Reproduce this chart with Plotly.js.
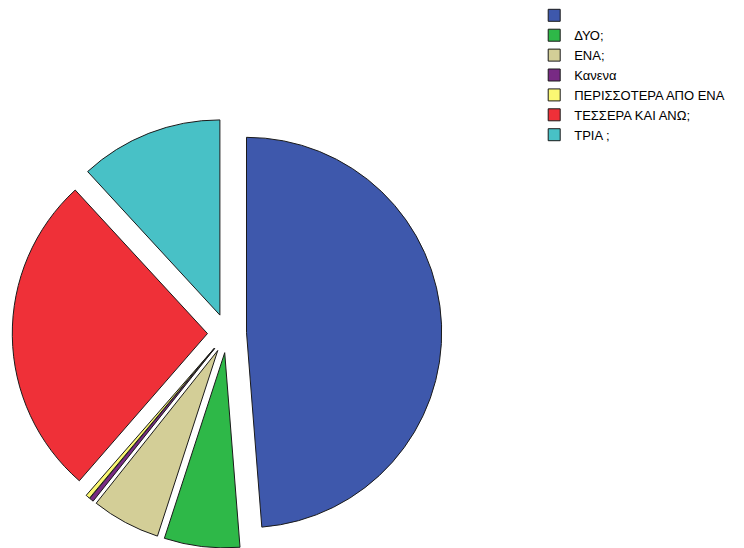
<!DOCTYPE html>
<html>
<head>
<meta charset="utf-8">
<script src="https://cdn.plot.ly/plotly-3.0.1.min.js"></script>
<style>html,body{margin:0;padding:0;background:#fff;}#chart{width:744px;height:548px;}</style>
</head>
<body>
<div id="chart"></div>
<script>
const categories = [" ", "ΔΥΟ;", "ΕΝΑ;", "Κανενα", "ΠΕΡΙΣΣΟΤΕΡΑ ΑΠΟ ΕΝΑ", "ΤΕΣΣΕΡΑ ΚΑΙ ΑΝΩ;", "ΤΡΙΑ ;"];
const percentValues = [48.75, 6.25, 5.7, 0.35, 0.35, 26.75, 11.85];
const sliceColors = ["#3E58AC", "#2EB848", "#D3CE97", "#782A84", "#FBF873", "#EF3038", "#48C1C6"];

const trace = {
  type: "pie",
  labels: categories,
  values: percentValues,
  sort: false,
  direction: "clockwise",
  rotation: 0,
  pull: categories.map(() => 0.1),
  textinfo: "none",
  hoverinfo: "label+percent",
  marker: { colors: sliceColors, line: { color: "#1a1a1a", width: 1 } },
  domain: { x: [0.01532, 0.59489], y: [0, 0.7865] }
};

const layout = {
  width: 744, height: 548,
  margin: { l: 0, r: 0, t: 0, b: 0 },
  paper_bgcolor: "#ffffff",
  showlegend: true,
  legend: {
    x: 0.718, y: 1.003, xanchor: "left", yanchor: "top",
    font: { family: "Liberation Sans, Arial, sans-serif", size: 13, color: "#000" },
    bgcolor: "rgba(0,0,0,0)", traceorder: "normal"
  }
};

Plotly.newPlot("chart", [trace], layout, { displayModeBar: false, staticPlot: true });
</script>
</body>
</html>
